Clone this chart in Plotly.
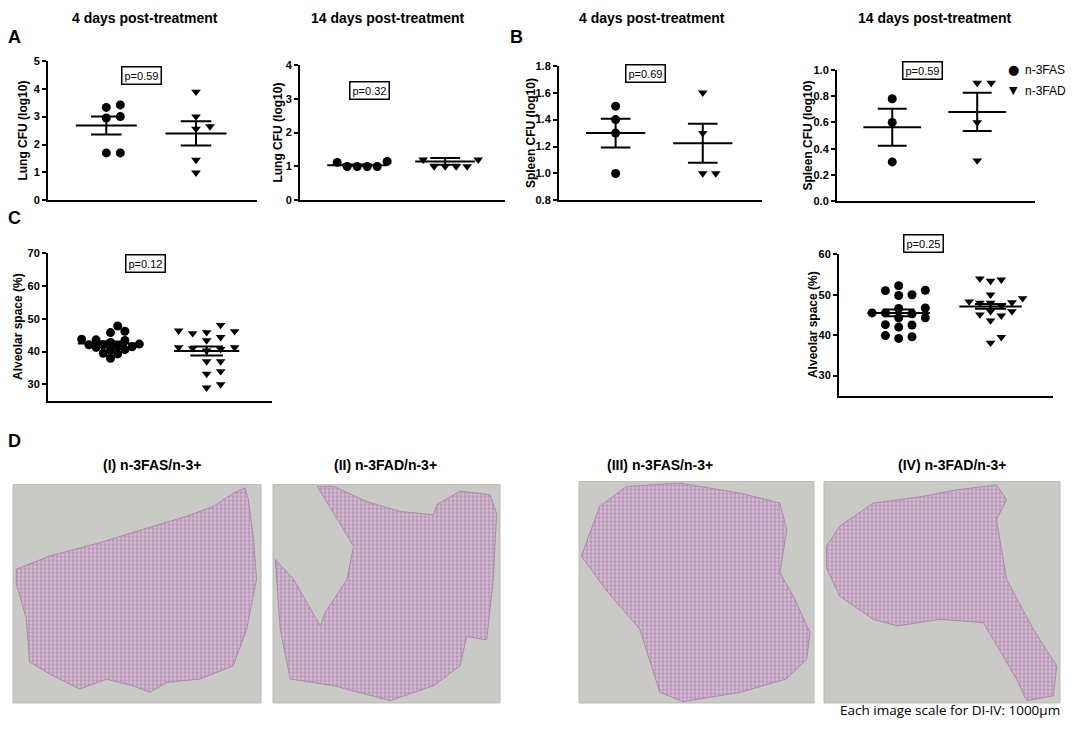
import numpy as np
import plotly.graph_objects as go

FONT = "Liberation Sans"
W, H = 1084, 733          # size of the picture we want to match
OFF = 8                   # the page body keeps an 8px margin round the figure
FW, FH = W - 2 * OFF, H - 2 * OFF
# the photographed page comes out a little squeezed in height; undo it
Y_SHIFT, Y_SCALE = 5.2, 0.986

GROUPS = ["n-3FAS", "n-3FAD"]

# A: lung CFU (log10)
lung_4d_fas = [3.33, 3.42, 2.95, 3.0, 1.7, 1.7]
lung_4d_fad = [3.89, 3.0, 2.65, 2.56, 1.45, 0.99]
lung_4d_mean = [2.68, 2.40]
lung_4d_sem = [0.32, 0.43]

lung_14d_fas = [1.0, 1.15, 1.0, 1.12, 1.0, 1.0]
lung_14d_fad = [1.2, 1.2, 1.0, 1.0, 1.0, 1.0]
lung_14d_mean = [1.04, 1.15]
lung_14d_sem = [0.02, 0.10]

# B: spleen CFU (log10)
spleen_4d_fas = [1.5, 1.4, 1.3, 1.0]
spleen_4d_fad = [1.6, 1.3, 1.0, 1.0]
spleen_4d_mean = [1.30, 1.225]
spleen_4d_sem = [0.107, 0.145]

spleen_14d_fas = [0.78, 0.6, 0.3]
spleen_14d_fad = [0.9, 0.9, 0.6, 0.31]
spleen_14d_mean = [0.563, 0.68]
spleen_14d_sem = [0.14, 0.145]

# C: alveolar space (%)
alveolar_4d_fas = [46.2, 45.8, 47.8, 42.3, 41.6, 42.8, 40.5, 41.5, 42.1,
                   38.0, 39.5, 42.1, 39.3, 40.6, 43.4, 43.8, 41.3, 43.6]
alveolar_4d_fad = [46.4, 45.6, 43.4, 45.9, 48.1, 44.4, 46.2, 41.3, 40.8,
                   41.0, 41.3, 40.3, 37.0, 37.0, 33.2, 34.0, 29.0, 30.0]
alveolar_4d_mean = [42.5, 40.2]
alveolar_4d_sem = [0.6, 1.4]

alveolar_14d_fas = [51.0, 50.0, 51.1, 52.2, 49.8, 45.5, 46.7, 44.3, 45.3,
                    46.6, 44.3, 45.5, 42.6, 42.0, 42.5, 39.2, 39.9, 39.6]
alveolar_14d_fad = [53.4, 53.7, 54.0, 50.0, 49.1, 48.0, 48.1, 48.3, 48.0,
                    47.3, 45.9, 45.9, 44.8, 45.1, 43.6, 38.1, 39.5]
alveolar_14d_mean = [45.5, 47.1]
alveolar_14d_sem = [0.85, 0.6]

p_values = ["p=0.59", "p=0.32", "p=0.69", "p=0.59", "p=0.12", "p=0.25"]

# D: rough outlines of the four lung sections (percent of each image)
section_titles = ["(I) n-3FAS/n-3+", "(II) n-3FAD/n-3+",
                  "(III) n-3FAS/n-3+", "(IV) n-3FAD/n-3+"]
section_1_x = [93.5, 88.8, 80.8, 70, 52.5, 35, 14.8, 1.3, 1.3, 5.4, 6.7, 16.1, 26.9,
               37.7, 48.4, 55.2, 61.9, 75.4, 88.8, 94.2, 98.2, 97, 94.9, 93.5]
section_1_y = [98.5, 96, 90, 85.5, 79.5, 73.4, 67.3, 61.2, 55, 38.4, 18.7, 12.5, 6.4,
               10.9, 7.9, 4.9, 9.4, 11, 17, 33.8, 56.6, 74.9, 93.2, 98.5]
section_2_x = [19.4, 26.7, 41.3, 56, 70.7, 72.3, 82.4, 95.6, 98.5, 97, 94.1, 85.3, 82.4,
               70.7, 51.6, 26.7, 7.6, 3.2, 1, 9.1, 20.8, 23, 32.6, 35.5, 26.7, 19.4]
section_2_y = [99.2, 99.2, 92.2, 87.7, 86.2, 90.9, 97, 95.4, 86.8, 56.2, 28.9, 30.4, 17,
               7.9, 1.1, 7.9, 11, 33.8, 65.8, 56.6, 35.3, 41.4, 56.6, 71.8, 87, 99.2]
section_3_x = [1, 8.8, 20.2, 43, 68.5, 85.5, 88.4, 85.5, 91.2, 98.3, 96.9, 88.1, 68.5,
               44.3, 34.4, 25.9, 11.6, 1]
section_3_y = [66.3, 88.8, 97.8, 99.3, 94.8, 90.3, 78.3, 58.8, 48.3, 31.8, 19.8, 10.8, 4.8,
               0.6, 4.8, 33.3, 50.9, 66.3]
section_4_x = [1, 6.6, 20.8, 42, 56.2, 73.1, 77.4, 73.1, 77.4, 88.7, 98.6, 97.2, 85.9,
               81.6, 67.5, 49.1, 31.1, 20.8, 6.6, 1, 1]
section_4_y = [70.8, 79.8, 90.3, 93.3, 96.3, 98.5, 91.8, 82.8, 55.8, 33.3, 16.8, 3.3, 1,
               10.8, 36.3, 37.8, 34.8, 37.8, 48.3, 61.2, 70.8]


def page_y(y):
    return (y - Y_SHIFT) / Y_SCALE


def px(x, y):
    """picture pixel -> paper coords"""
    return (x - OFF) / FW, 1 - (page_y(y) - OFF) / FH


def dom_x(left, right):
    return [(left - OFF) / FW, (right - OFF) / FW]


def dom_y(top, bottom):
    return [1 - (page_y(bottom) - OFF) / FH, 1 - (page_y(top) - OFF) / FH]


def swarm_offsets(values, px_per_y, px_per_x, spacing, diameter=7.5):
    """Simple beeswarm: each point takes the nearest free column slot."""
    order = np.argsort(values, kind="stable")
    placed = []
    offsets = np.zeros(len(values))
    for i in order:
        yo = values[i] * px_per_y
        k = 0
        while True:
            ok = None
            for c in ([0] if k == 0 else [k, -k]):
                xo = c * spacing
                if all((xo - a) ** 2 + (yo - b) ** 2 >= diameter ** 2 for a, b in placed):
                    ok = xo
                    break
            if ok is not None:
                placed.append((ok, yo))
                offsets[i] = ok / px_per_x
                break
            k += 1
    return offsets


def add_dot_panel(fig, n, fas, fad, mean, sem, box, yrange, ticks, fmt, spacing,
                  ytitle, title_gap):
    left, right, top, bottom = box
    xr = [0.35, 2.68]
    px_x = (right - left) / (xr[1] - xr[0])
    px_y = (bottom - top) / (yrange[1] - yrange[0])
    xa, ya = ("x", "y") if n == 1 else (f"x{n}", f"y{n}")

    for g, (vals, sym) in enumerate([(fas, "circle"), (fad, "triangle-down")]):
        vals = np.array(vals, dtype=float)
        xs = g + 1 + swarm_offsets(vals, px_y, px_x, spacing[g])
        fig.add_trace(go.Scatter(
            x=xs, y=vals, mode="markers", xaxis=xa, yaxis=ya,
            marker=dict(symbol=sym, size=9 if sym == "circle" else 8.5, color="black"),
            name=GROUPS[g], showlegend=False, hoverinfo="y"))
        # mean and SEM whiskers
        c, m, s = g + 1, mean[g], sem[g]
        fig.add_trace(go.Scatter(
            x=[c - 0.34, c + 0.34, None, c - 0.17, c + 0.17, None,
               c - 0.17, c + 0.17, None, c, c],
            y=[m, m, None, m + s, m + s, None, m - s, m - s, None, m - s, m + s],
            mode="lines", xaxis=xa, yaxis=ya, line=dict(color="black", width=2),
            showlegend=False, hoverinfo="skip"))

    fig.update_layout({
        f"xaxis{n if n > 1 else ''}": dict(
            domain=dom_x(left, right), range=xr, showline=True, linecolor="black",
            linewidth=2, showticklabels=False, ticks="", showgrid=False,
            zeroline=False, anchor=ya),
        f"yaxis{n if n > 1 else ''}": dict(
            domain=dom_y(top, bottom), range=yrange, tickvals=ticks, tickformat=fmt,
            showline=True, linecolor="black", linewidth=2, ticks="outside",
            ticklen=4, tickwidth=2, tickcolor="black", showgrid=False, zeroline=False,
            tickfont=dict(family=FONT, size=11, color="black", weight="bold"),
            anchor=xa),
    })
    tx, ty = px(left - title_gap, (top + bottom) / 2)
    fig.add_annotation(
        x=tx, y=ty, xref="paper", yref="paper", xanchor="center", yanchor="middle",
        text=ytitle, textangle=-90, showarrow=False,
        font=dict(family=FONT, size=12, color="black", weight="bold"))


def add_section(fig, n, xs, ys, box, title, title_x):
    left, right, top, bottom = box
    fig.add_trace(go.Scatter(
        x=xs, y=ys, mode="lines", fill="toself", xaxis=f"x{n}", yaxis=f"y{n}",
        line=dict(color="#a88aa8", width=1), fillcolor="#c4a6c2",
        fillpattern=dict(shape=".", bgcolor="#b893b6", fgcolor="#ebe5eb",
                         size=4, solidity=0.55),
        showlegend=False, hoverinfo="skip"))
    fig.update_layout({
        f"xaxis{n}": dict(domain=dom_x(left, right), range=[0, 100], visible=False),
        f"yaxis{n}": dict(domain=dom_y(top, bottom), range=[0, 100], visible=False),
    })
    fig.add_shape(type="rect", xref=f"x{n} domain", yref=f"y{n} domain",
                  x0=0, x1=1, y0=0, y1=1, fillcolor="#c9c9c6",
                  line=dict(color="#b9b9b6", width=1), layer="below")
    label(fig, title_x, 465, title, 14)


def label(fig, x, y, text, size, bold=True, xanchor="center", **kw):
    tx, ty = px(x, y)
    fig.add_annotation(x=tx, y=ty, xref="paper", yref="paper", xanchor=xanchor,
                       yanchor="middle", text=text, showarrow=False,
                       font=dict(family=kw.pop("family", FONT), size=size,
                                 color="black", weight="bold" if bold else "normal"),
                       **kw)


def main():
    fig = go.Figure()

    add_dot_panel(fig, 1, lung_4d_fas, lung_4d_fad, lung_4d_mean, lung_4d_sem,
                  (48, 257, 60, 200), [0, 5], [0, 1, 2, 3, 4, 5], "d", [14, 14],
                  "Lung CFU (log10)", 25)
    add_dot_panel(fig, 2, lung_14d_fas, lung_14d_fad, lung_14d_mean, lung_14d_sem,
                  (300, 505, 64, 200), [0, 4], [0, 1, 2, 3, 4], "d", [10, 11],
                  "Lung CFU (log10)", 22)
    add_dot_panel(fig, 3, spleen_4d_fas, spleen_4d_fad, spleen_4d_mean, spleen_4d_sem,
                  (559, 762, 65, 200), [0.8, 1.8], [0.8, 1.0, 1.2, 1.4, 1.6, 1.8], ".1f",
                  [13, 13], "Spleen CFU (log10)", 28)
    add_dot_panel(fig, 4, spleen_14d_fas, spleen_14d_fad, spleen_14d_mean,
                  spleen_14d_sem, (837, 1035, 69, 201), [0, 1.0],
                  [0, 0.2, 0.4, 0.6, 0.8, 1.0], ".1f", [14, 7], "Spleen CFU (log10)", 29)
    add_dot_panel(fig, 5, alveolar_4d_fas, alveolar_4d_fad, alveolar_4d_mean,
                  alveolar_4d_sem, (48, 272, 253, 401), [25, 70], [30, 40, 50, 60, 70],
                  "d", [7.2, 14], "Alveolar space (%)", 30)
    add_dot_panel(fig, 6, alveolar_14d_fas, alveolar_14d_fad, alveolar_14d_mean,
                  alveolar_14d_sem, (839, 1053, 254, 396), [25, 60], [30, 40, 50, 60],
                  "d", [13.3, 10.7], "Alveolar space (%)", 26)

    sections = [(section_1_x, section_1_y, (13, 261, 485, 704), 152),
                (section_2_x, section_2_y, (273, 500, 485, 704), 385),
                (section_3_x, section_3_y, (579, 814, 482, 704), 660),
                (section_4_x, section_4_y, (824, 1060, 482, 704), 952)]
    for k, (xs, ys, box, title_x) in enumerate(sections):
        add_section(fig, 7 + k, xs, ys, box, section_titles[k], title_x)

    # column headers (as high as the page lets them go)
    for cx, txt in [(145, "4 days post-treatment"), (388, "14 days post-treatment"),
                    (652, "4 days post-treatment"), (935, "14 days post-treatment")]:
        label(fig, cx, 17, txt, 14)

    # panel letters
    for lx, ly, txt in [(14, 36, "A"), (516, 36, "B"), (14, 218, "C"), (14, 441, "D")]:
        label(fig, lx, ly, txt, 18)

    # p-value boxes
    for (bx, by), txt in zip([(141, 75), (369, 90), (645, 73), (922, 70), (145, 263),
                              (923, 243)], p_values):
        label(fig, bx, by, txt, 11, bold=False, bordercolor="black",
              borderwidth=1.5, borderpad=2, bgcolor="white")

    # legend of panel B (drawn by hand so it stays inside the page)
    label(fig, 1013, 69, "●", 13, bold=False, family="DejaVu Sans")
    label(fig, 1013, 90, "▼", 11, bold=False, family="DejaVu Sans")
    label(fig, 1023, 69, GROUPS[0], 12, bold=False, xanchor="left")
    label(fig, 1023, 90, GROUPS[1], 12, bold=False, xanchor="left")

    # kept just inside the bottom edge of the page
    label(fig, 1062, 711, "Each image scale for DI-IV: 1000µm", 13.5, bold=False,
          xanchor="right", family="Open Sans")

    fig.update_layout(
        width=FW, height=FH, margin=dict(l=0, r=0, t=0, b=0),
        paper_bgcolor="white", plot_bgcolor="rgba(0,0,0,0)",
        font=dict(family=FONT, color="black"), showlegend=False,
    )

    fig.write_html("out.html")


if __name__ == "__main__":
    main()
